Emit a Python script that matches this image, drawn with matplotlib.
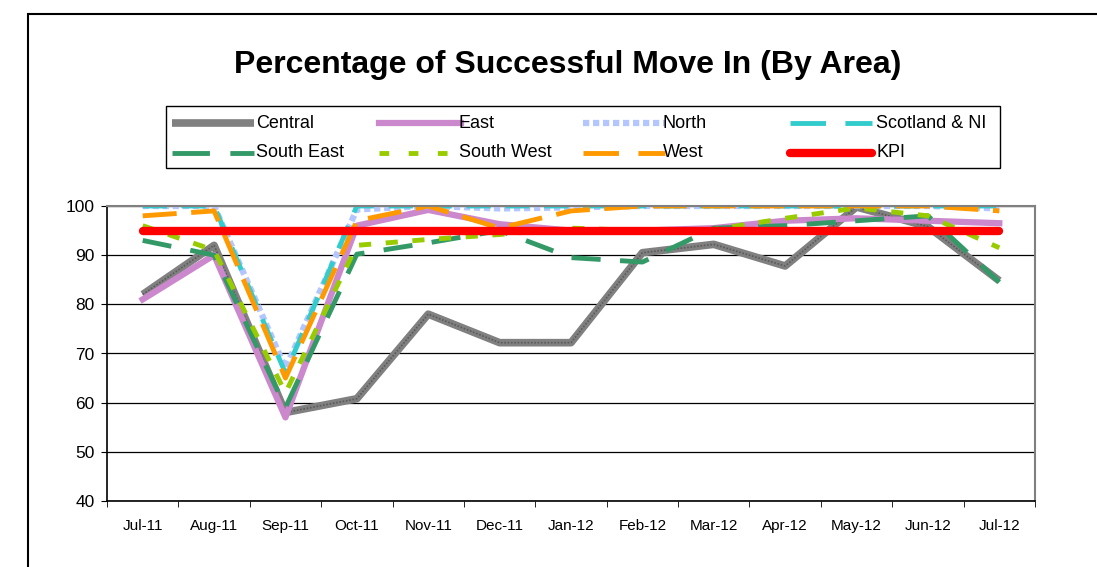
import matplotlib.pyplot as plt
from matplotlib.lines import Line2D

plt.rcParams['font.family'] = ['Liberation Sans', 'DejaVu Sans']

months = ['Jul-11', 'Aug-11', 'Sep-11', 'Oct-11', 'Nov-11', 'Dec-11', 'Jan-12',
          'Feb-12', 'Mar-12', 'Apr-12', 'May-12', 'Jun-12', 'Jul-12']

central = [82, 92, 58, 60.8, 78, 72.2, 72.2, 90.5, 92.2, 87.8, 99.8, 95.8, 84.8]
east = [81, 90, 57, 96, 99.2, 96.3, 95, 95, 95.5, 97, 97.5, 97, 96.5]
north = [100, 100, 67, 99.3, 100, 99.5, 99.7, 100, 100, 100, 100, 100, 99.5]
scotland = [100, 100, 66, 100, 100, 100, 100, 100, 100, 100, 100, 100, 100]
south_east = [93, 90, 59, 90.2, 92.5, 95, 89.5, 88.6, 95.5, 96, 97, 98, 84.5]
south_west = [96, 91, 62, 92, 93.2, 94.2, 95.5, 95, 95.2, 97.5, 99.6, 98, 91.5]
west = [98, 99, 65, 97, 100, 95.5, 99, 100, 100, 100, 100, 100, 99]
kpi = [95] * 13

W, H = 1097, 567


def fx(p):
    return p / W


def fy(p):
    return 1 - p / H


fig = plt.figure(figsize=(10.97, 5.67), dpi=100)

# outer chart frame (cut off on the right and bottom)
fig.add_artist(plt.Rectangle((fx(27.5), -0.1), 1.2, fy(13.5) + 0.1,
                             transform=fig.transFigure, fill=False,
                             edgecolor='black', linewidth=1.5))

ax = fig.add_axes([fx(107), 66 / H, 928 / W, 295 / H])
x = list(range(len(months)))

styles = {
    'Central': dict(color='#808080', lw=5.5, solid_capstyle='butt'),
    'East': dict(color='#cc88cc', lw=4.5),
    'North': dict(color='#b3c6ff', lw=4.5, ls=(0, (1, 0.6))),
    'Scotland & NI': dict(color='#33cccc', lw=3.5, ls=(0, (5, 3))),
    'South East': dict(color='#339966', lw=3.5, ls=(0, (6, 4))),
    'South West': dict(color='#99cc00', lw=3.5, ls=(0, (2.5, 3))),
    'West': dict(color='#ff9900', lw=3.5, ls=(0, (7, 3))),
    'KPI': dict(color='#ff0000', lw=6, solid_capstyle='round'),
}
# dash patterns used in the legend keys
legend_dash = {
    'Scotland & NI': (0, (7.3, 4)),
    'South East': (0, (7.7, 4.2)),
    'South West': (0, (2, 4)),
    'West': (0, (7.3, 4)),
}
series = {'Central': central, 'East': east, 'North': north,
          'Scotland & NI': scotland, 'South East': south_east,
          'South West': south_west, 'West': west, 'KPI': kpi}

for name, vals in series.items():
    ax.plot(x, vals, **styles[name])
    if name == 'Central':
        ax.plot(x, vals, color='#5a5a5a', lw=1.2, ls=(0, (1, 1)))

ax.set_xlim(-0.5, len(months) - 0.5)
ax.set_ylim(40, 100)
ax.set_yticks(range(40, 101, 10))
ax.set_xticks(x)
ax.set_xticklabels(months, fontsize=11)
ax.set_xticks([i - 0.5 for i in range(len(months) + 1)], minor=True)
ax.tick_params(axis='x', which='major', length=0, pad=13)
ax.tick_params(axis='x', which='minor', length=4, direction='out')
ax.tick_params(axis='y', labelsize=12.5, length=4, direction='out', pad=5)
ax.yaxis.grid(True, color='black', lw=0.9)
ax.set_axisbelow(True)
for side in ['right', 'top']:
    ax.spines[side].set_color('#808080')
    ax.spines[side].set_linewidth(1.5)
ax.spines['left'].set_linewidth(1.2)
ax.spines['bottom'].set_linewidth(1.2)

fig.text(fx(568), fy(65), 'Percentage of Successful Move In (By Area)',
         ha='center', va='center', fontsize=23, fontweight='bold')

# legend drawn by hand, Excel style with equal column widths
fig.add_artist(plt.Rectangle((fx(166), fy(168)), (1000 - 166) / W, 62 / H,
                             transform=fig.transFigure, fill=False,
                             edgecolor='black', linewidth=1.0))
leg_rows = [['Central', 'East', 'North', 'Scotland & NI'],
            ['South East', 'South West', 'West', 'KPI']]
col_x = [172, 379, 583, 790]
text_x = [256, 459, 663, 876]
row_y = [123, 153]
for r, row in enumerate(leg_rows):
    for c, name in enumerate(row):
        st = dict(styles[name])
        if name in legend_dash:
            st['ls'] = legend_dash[name]
        fig.add_artist(Line2D([fx(col_x[c]), fx(col_x[c] + 82)],
                              [fy(row_y[r]), fy(row_y[r])],
                              transform=fig.transFigure, **st))
        fig.text(fx(text_x[c]), fy(row_y[r]), name, fontsize=13,
                 ha='left', va='center')

fig.savefig('out.png', dpi=100)
